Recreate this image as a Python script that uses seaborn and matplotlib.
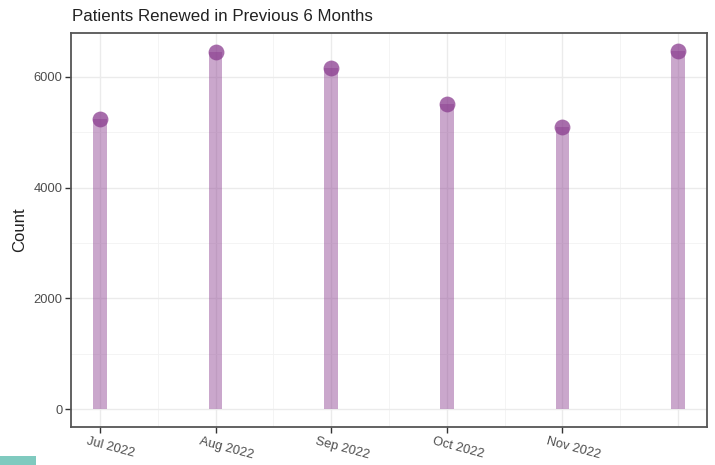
import matplotlib
matplotlib.use("Agg")
import matplotlib.pyplot as plt
import matplotlib.transforms as mtransforms
from matplotlib.patches import Rectangle
from matplotlib.ticker import MultipleLocator, FixedLocator
import seaborn as sns
import pandas as pd

months = ["Jul 2022", "Aug 2022", "Sep 2022", "Oct 2022", "Nov 2022", "Dec 2022"]
tick_labels = ["Jul 2022", "Aug 2022", "Sep 2022", "Oct 2022", "Nov 2022", ""]
counts = [5240, 6450, 6160, 5510, 5100, 6470]
title = "Patients Renewed in Previous 6 Months"
ylabel = "Count"

df = pd.DataFrame({"pos": range(len(months)), "month": months, "count": counts})

sns.set_theme(style="white")
plt.rcParams["font.family"] = ["Liberation Sans", "DejaVu Sans"]

fig = plt.figure(figsize=(7.15, 4.65), dpi=100)
ax = fig.add_axes([71 / 715, 1 - 427 / 465, (707 - 71) / 715, (427 - 33) / 465])

base = "#8a3c8f"
ax.bar(df["pos"], df["count"], width=0.12, color=base, alpha=0.45, linewidth=0, zorder=2)
sns.scatterplot(data=df, x="pos", y="count", ax=ax, color=base, alpha=0.75,
                s=130, linewidth=0, zorder=3, legend=False)

ax.set_xlim(-0.25, 5.25)
ax.set_ylim(-323, 6793)

ax.xaxis.set_major_locator(FixedLocator(list(range(len(months)))))
ax.set_xticklabels(tick_labels)
ax.xaxis.set_minor_locator(FixedLocator([i + 0.5 for i in range(len(months) - 1)]))
ax.yaxis.set_major_locator(MultipleLocator(2000))
ax.yaxis.set_minor_locator(FixedLocator([1000, 3000, 5000]))

ax.grid(True, which="major", color="#ebebeb", linewidth=1.0, zorder=0)
ax.grid(True, which="minor", color="#f3f3f3", linewidth=0.6, zorder=0)
ax.set_axisbelow(True)

for s in ax.spines.values():
    s.set_color("#555555")
    s.set_linewidth(1.3)

ax.tick_params(axis="both", which="major", length=4, width=1.0, color="#333333",
               labelsize=9.3, labelcolor="#4d4d4d", pad=2, bottom=True, left=True)
ax.tick_params(axis="both", which="minor", length=0)
ax.xaxis.get_major_ticks()[-1].tick1line.set_visible(False)

offset = mtransforms.ScaledTranslation(11 / 100, 0, fig.dpi_scale_trans)
for lab in ax.get_xticklabels():
    lab.set_rotation(-15)
    lab.set_ha("center")
    lab.set_va("top")
    lab.set_transform(lab.get_transform() + offset)

ax.set_xlabel("")
ax.set_ylabel(ylabel, fontsize=12, color="#222222", labelpad=5)
ax.set_title(title, loc="left", fontsize=12.2, color="#222222", pad=9, x=0.002)

fig.patches.append(Rectangle((0, 0), 36 / 715, 9 / 465, transform=fig.transFigure,
                             facecolor="#7fcabf", edgecolor="none", figure=fig))

fig.savefig("out.png", dpi=100)
